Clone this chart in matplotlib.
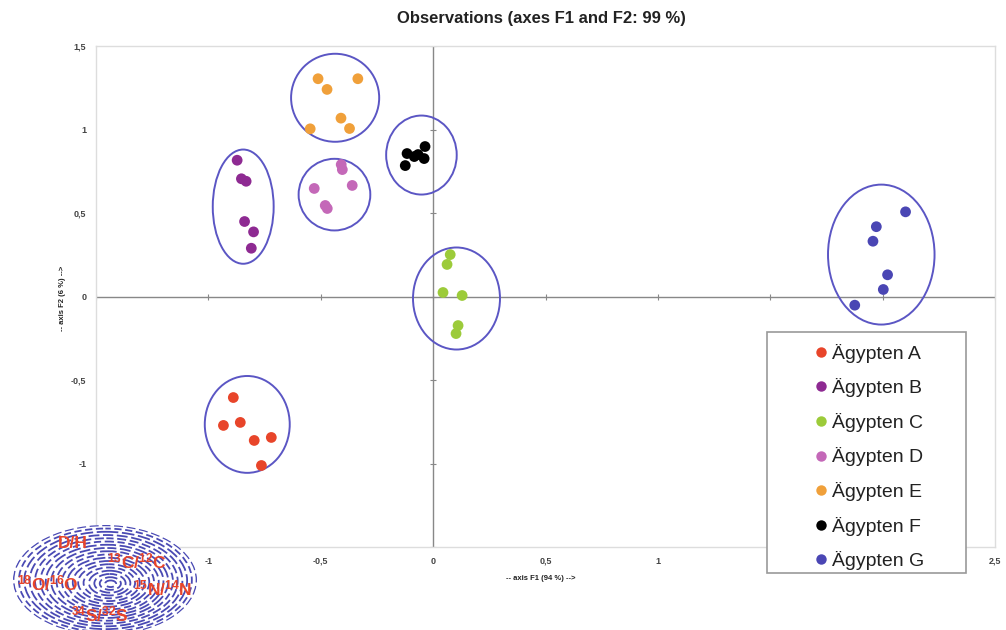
import matplotlib
matplotlib.use("Agg")
import matplotlib.pyplot as plt
from matplotlib.patches import Ellipse, Rectangle
from matplotlib.lines import Line2D
import numpy as np

plt.rcParams['font.family'] = ['Liberation Sans', 'DejaVu Sans']
plt.rcParams['mathtext.fontset'] = 'custom'
plt.rcParams['mathtext.rm'] = 'Liberation Sans:bold'
plt.rcParams['mathtext.bf'] = 'Liberation Sans:bold'
plt.rcParams['mathtext.default'] = 'rm'

# ---------------- data ----------------
groups = ["Ägypten A", "Ägypten B", "Ägypten C", "Ägypten D", "Ägypten E", "Ägypten F", "Ägypten G"]
colors = ["#E8452A", "#8E2A92", "#9CCB3A", "#C468B8", "#F0A03A", "#000000", "#4A46B4"]

a_x = [-0.889, -0.933, -0.858, -0.796, -0.720, -0.764]
a_y = [-0.605, -0.772, -0.754, -0.862, -0.844, -1.012]
b_x = [-0.872, -0.853, -0.832, -0.839, -0.799, -0.809]
b_y = [0.816, 0.705, 0.690, 0.449, 0.387, 0.289]
c_x = [0.076, 0.062, 0.044, 0.129, 0.111, 0.102]
c_y = [0.251, 0.192, 0.024, 0.006, -0.174, -0.222]
d_x = [-0.409, -0.404, -0.360, -0.529, -0.480, -0.471]
d_y = [0.790, 0.760, 0.665, 0.647, 0.545, 0.527]
e_x = [-0.512, -0.335, -0.472, -0.410, -0.372, -0.547]
e_y = [1.304, 1.304, 1.240, 1.068, 1.006, 1.004]
f_x = [-0.124, -0.116, -0.084, -0.067, -0.040, -0.036]
f_y = [0.784, 0.856, 0.838, 0.850, 0.826, 0.898]
g_x = [2.102, 1.972, 1.957, 2.022, 2.003, 1.876]
g_y = [0.507, 0.418, 0.331, 0.130, 0.042, -0.052]

xs = [a_x, b_x, c_x, d_x, e_x, f_x, g_x]
ys = [a_y, b_y, c_y, d_y, e_y, f_y, g_y]

# group ellipses: centre x, centre y, width, height
ell_cx = [-0.827, -0.845, 0.104, -0.439, -0.436, -0.052, 1.994]
ell_cy = [-0.766, 0.538, -0.012, 0.610, 1.190, 0.847, 0.251]
ell_w = [0.378, 0.271, 0.387, 0.319, 0.392, 0.314, 0.474]
ell_h = [0.580, 0.684, 0.611, 0.429, 0.527, 0.473, 0.838]

xticks = [-1.5, -1.0, -0.5, 0.0, 0.5, 1.0, 1.5, 2.0, 2.5]
yticks = [-1.5, -1.0, -0.5, 0.0, 0.5, 1.0, 1.5]
# tick labels hidden behind the legend / logo in the original
xticklabels = ["", "-1", "-0,5", "0", "0,5", "1", "", "", "2,5"]
yticklabels = ["", "-1", "-0,5", "0", "0,5", "1", "1,5"]

title = "Observations (axes F1 and F2: 99 %)"
xlabel = "-- axis F1 (94 %) -->"
ylabel = "-- axis F2 (6 %) -->"
isotopes = ["D/H", "$^{13}C/^{12}C$", "$^{18}O/^{16}O$", "$^{15}N/^{14}N$", "$^{34}S/^{32}S$"]

# ---------------- figure ----------------
W, H = 1006, 630
fig = plt.figure(figsize=(W / 100, H / 100), dpi=100)
ax = fig.add_axes([96 / W, 1 - 547 / H, (995 - 96) / W, (547 - 46) / H])
ax.set_xlim(-1.5, 2.5)
ax.set_ylim(-1.5, 1.5)

for s in ax.spines.values():
    s.set_color("#DDDDDD")
    s.set_linewidth(1.0)

ax.set_xticks(xticks)
ax.set_yticks(yticks)
ax.set_xticklabels(xticklabels)
ax.set_yticklabels(yticklabels)
ax.tick_params(length=0, labelsize=6.5, labelcolor="#444444", pad=7)
for lab in ax.get_xticklabels() + ax.get_yticklabels():
    lab.set_fontweight("bold")

# axis lines through zero with tick marks
ax.axhline(0, color="#888888", lw=1.0, zorder=1)
ax.axvline(0, color="#888888", lw=1.0, zorder=1)
ax.plot(xticks, [0] * len(xticks), ls="none", marker="|", ms=5, mew=0.8, color="#888888", zorder=1)
ax.plot([0] * len(yticks), yticks, ls="none", marker="_", ms=5, mew=0.8, color="#888888", zorder=1)

for i in range(len(groups)):
    ax.scatter(xs[i], ys[i], s=60, color=colors[i], edgecolors="none", zorder=3)
    ax.add_patch(Ellipse((ell_cx[i], ell_cy[i]), ell_w[i], ell_h[i], fill=False,
                         edgecolor="#5B56C4", lw=1.4, zorder=2))

fig.text(541 / W, 1 - 18 / H, title, ha="center", va="center", fontsize=12, fontweight="bold", color="#222222")
fig.text(541 / W, 1 - 579 / H, xlabel, ha="center", va="center", fontsize=5.5, fontweight="bold", color="#222222")
fig.text(62 / W, 1 - 298 / H, ylabel, ha="center", va="center", fontsize=5.5, fontweight="bold",
         color="#222222", rotation=90)

# overlay axes in pixel coordinates for legend box and logo
ov = fig.add_axes([0, 0, 1, 1], zorder=5)
ov.set_xlim(0, W)
ov.set_ylim(H, 0)
ov.axis("off")
ov.patch.set_alpha(0)

ov.add_patch(Rectangle((767, 332), 199, 241, facecolor="white", edgecolor="#999999", lw=1.2))
handles = [Line2D([], [], ls="none", marker="o", ms=7.5, color=c, mec="none") for c in colors]
leg = ov.legend(handles, groups, loc="upper left", bbox_to_anchor=(805 / W, 1 - 334 / H),
                bbox_transform=fig.transFigure, frameon=False, fontsize=14, handlelength=0.6,
                handletextpad=0.3, labelspacing=0.8, borderpad=0, labelcolor="#222222")

# fingerprint logo
cx, cy, fw, fh = 105, 580, 184, 110
bg = Ellipse((cx, cy), fw, fh, facecolor="white", edgecolor="none", zorder=1)
ov.add_patch(bg)
for k, r in enumerate(np.arange(0.06, 1.0, 0.055)):
    e = Ellipse((cx + 6 * (1 - r), cy + 4 * (1 - r)), fw * r, fh * r, fill=False,
                edgecolor="#4A4AB4", lw=1.3, linestyle=(k % 3, (4 + k % 4, 2)), zorder=2)
    ov.add_patch(e)
    e.set_clip_path(bg)
tx = [(73, 543), (137, 561), (48, 583), (163, 588), (100, 614)]
for (px, py), t in zip(tx, isotopes):
    ov.text(px, py, t, ha="center", va="center", fontsize=12.5, fontweight="bold",
            color="#E8452A", zorder=6)

fig.savefig("out.png", dpi=100)
